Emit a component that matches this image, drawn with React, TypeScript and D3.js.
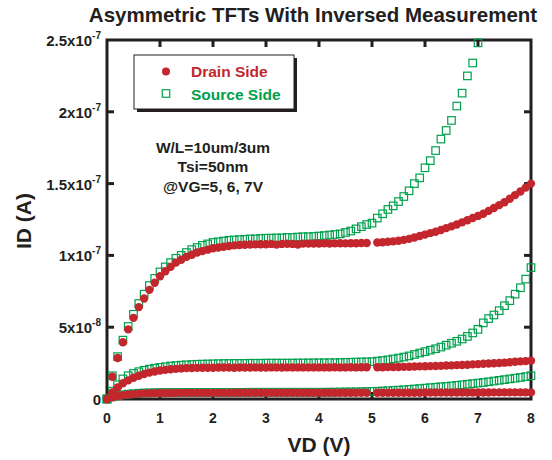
import * as d3 from "d3";
import { useEffect, useRef } from "react";

// drain voltage sweep (V), 0.1 V steps
const vd = d3.range(0, 81).map(i => +(i * 0.1).toFixed(1));

// drain current in units of 1e-8 A (null = no point)
const drainVg7 = [
    0, 1.55, 2.85, 3.95, 4.85, 5.65, 6.4, 7.0, 7.6, 8.1,
    8.55, 8.9, 9.2, 9.5, 9.7, 9.9, 10.05, 10.2, 10.3, 10.4,
    10.5, 10.55, 10.6, 10.65, 10.7, 10.72, 10.74, 10.76, 10.77, 10.78,
    10.78, 10.8, 10.75, 10.8, 10.81, 10.8, 10.76, 10.82, 10.82, 10.83,
    10.83, 10.84, 10.83, 10.84, 10.85, 10.84, 10.85, 10.85, 10.86, 10.86,
    null,
    10.9, 10.92, 10.95, 10.98, 11.02, 11.08, 11.15, 11.25, 11.35, 11.45,
    11.55, 11.65, 11.77, 11.9, 12.02, 12.15, 12.3, 12.45, 12.6, 12.75,
    12.9, 13.1, 13.3, 13.5, 13.7, 13.95, 14.2, 14.45, 14.72, 15.0,
];
const sourceVg7 = [
    0, 1.62, 2.95, 4.1, 5.05, 5.9, 6.65, 7.3, 7.9, 8.4,
    8.85, 9.2, 9.5, 9.8, 10.0, 10.2, 10.4, 10.55, 10.7, 10.8,
    10.9, 10.95, 11.0, 11.05, 11.08, 11.1, 11.12, 11.15, 11.15, 11.18,
    11.2, 11.2, 11.22, 11.22, 11.25, 11.25, 11.28, 11.3, 11.3, 11.32,
    11.35, 11.38, 11.42, 11.46, 11.5, 11.6, 11.7, 11.85, 12.0, 12.15,
    12.25, 12.6, 12.9, 13.2, 13.45, 13.75, 14.1, 14.5, 15.0, 15.4,
    16.1, 16.6, 17.3, 18.1, 18.7, 19.4, 20.4, 21.3, 22.5, 23.4, 24.8,
];
const drainVg6 = [
    0, 0.45, 0.8, 1.1, 1.3, 1.48, 1.62, 1.74, 1.84, 1.92,
    1.98, 2.03, 2.07, 2.1, 2.13, 2.15, 2.16, 2.17, 2.18, 2.18,
    2.18, 2.19, 2.19, 2.19, 2.18, 2.19, 2.19, 2.19, 2.2, 2.19,
    2.19, 2.2, 2.2, 2.19, 2.2, 2.2, 2.2, 2.2, 2.2, 2.2,
    2.2, 2.2, 2.2, 2.21, 2.2, 2.2, 2.21, 2.2, 2.21, 2.21,
    null,
    2.21, 2.21, 2.22, 2.22, 2.23, 2.24, 2.25, 2.26, 2.27, 2.28,
    2.29, 2.3, 2.31, 2.33, 2.34, 2.36, 2.37, 2.39, 2.41, 2.43,
    2.45, 2.47, 2.49, 2.51, 2.53, 2.56, 2.59, 2.62, 2.64, 2.67,
];
const sourceVg6 = [
    0, 0.55, 1.0, 1.4, 1.62, 1.78, 1.9, 2.0, 2.08, 2.15,
    2.2, 2.25, 2.3, 2.33, 2.36, 2.38, 2.4, 2.42, 2.43, 2.44,
    2.45, 2.46, 2.47, 2.47, 2.48, 2.48, 2.48, 2.49, 2.49, 2.49,
    2.5, 2.5, 2.5, 2.5, 2.5, 2.5, 2.51, 2.51, 2.51, 2.52,
    2.52, 2.52, 2.53, 2.53, 2.54, 2.55, 2.56, 2.57, 2.58, 2.59,
    2.6, 2.64, 2.68, 2.73, 2.79, 2.85, 2.92, 3.0, 3.1, 3.2,
    3.3, 3.4, 3.5, 3.62, 3.75, 3.88, 4.02, 4.18, 4.36, 4.6,
    4.85, 5.3, 5.6, 5.85, 6.15, 6.5, 6.85, 7.3, 7.75, 8.35, 9.15,
];
const drainVg5 = [
    0, 0.12, 0.2, 0.26, 0.31, 0.34, 0.37, 0.39, 0.4, 0.41,
    0.42, 0.42, 0.42, 0.43, 0.43, 0.43, 0.43, 0.43, 0.43, 0.43,
    0.43, 0.43, 0.43, 0.43, 0.44, 0.44, 0.44, 0.44, 0.44, 0.44,
    0.44, 0.44, 0.44, 0.44, 0.44, 0.44, 0.44, 0.44, 0.44, 0.44,
    0.44, 0.44, 0.44, 0.44, 0.44, 0.44, 0.44, 0.44, 0.44, 0.44,
    null,
    0.44, 0.44, 0.44, 0.44, 0.44, 0.44, 0.44, 0.44, 0.44, 0.45,
    0.45, 0.45, 0.45, 0.45, 0.45, 0.45, 0.45, 0.45, 0.45, 0.45,
    0.45, 0.45, 0.46, 0.46, 0.46, 0.46, 0.46, 0.46, 0.46, 0.46,
];
const sourceVg5 = [
    0, 0.15, 0.24, 0.3, 0.34, 0.37, 0.4, 0.42, 0.43, 0.44,
    0.45, 0.45, 0.45, 0.45, 0.46, 0.46, 0.46, 0.46, 0.46, 0.46,
    0.46, 0.46, 0.46, 0.46, 0.46, 0.46, 0.46, 0.47, 0.47, 0.47,
    0.47, 0.47, 0.47, 0.47, 0.47, 0.47, 0.47, 0.47, 0.47, 0.47,
    0.47, 0.47, 0.48, 0.48, 0.49, 0.49, 0.5, 0.5, 0.51, 0.52,
    0.53, 0.54, 0.56, 0.58, 0.6, 0.62, 0.64, 0.67, 0.7, 0.73,
    0.76, 0.79, 0.82, 0.85, 0.88, 0.91, 0.95, 0.99, 1.03, 1.07,
    1.11, 1.15, 1.2, 1.25, 1.3, 1.35, 1.4, 1.45, 1.5, 1.56, 1.62,
];

const drainSeries = [drainVg7, drainVg6, drainVg5];
const sourceSeries = [sourceVg7, sourceVg6, sourceVg5];

const xTicks = [0, 1, 2, 3, 4, 5, 6, 7, 8];
const yTicks = [0, 0.5e-7, 1e-7, 1.5e-7, 2e-7, 2.5e-7];
const yTickLabels: [string, string][] = [
    ["0", ""], ["5x10", "-8"], ["1x10", "-7"], ["1.5x10", "-7"], ["2x10", "-7"], ["2.5x10", "-7"],
];
const notes = ["W/L=10um/3um", "Tsi=50nm", "@VG=5, 6, 7V"];
const legendItems = ["Drain Side", "Source Side"];

const RED = "#c3262d";
const GREEN = "#00a04d";
const INK = "#231f20";
const FONT = "'Liberation Sans', Arial, Helvetica, sans-serif";

const TransferChart = () => {
    const svgRef = useRef<SVGSVGElement | null>(null);

    useEffect(() => {
        if (!svgRef.current) return;
        const svg = d3.select(svgRef.current);
        svg.selectAll("*").remove();

        const x = d3.scaleLinear().domain([0, 8]).range([107, 531]);
        const y = d3.scaleLinear().domain([0, 2.5e-7]).range([399, 40]);
        const [x0, x1] = x.range();
        const [y0, y1] = y.range();

        // title
        svg.append("text")
            .attr("x", 313).attr("y", 22)
            .attr("text-anchor", "middle")
            .attr("font-size", 20.5).attr("font-weight", "bold")
            .attr("fill", INK)
            .text("Asymmetric TFTs With Inversed Measurement");

        // frame + inward ticks (drawn under the data)
        const frame = svg.append("g").attr("stroke", INK).attr("stroke-width", 3);
        frame.append("rect")
            .attr("x", x0).attr("y", y1)
            .attr("width", x1 - x0).attr("height", y0 - y1)
            .attr("fill", "none");
        const tl = 7;
        xTicks.slice(1, -1).forEach(t => {
            frame.append("line").attr("x1", x(t)).attr("x2", x(t)).attr("y1", y0).attr("y2", y0 - tl);
            frame.append("line").attr("x1", x(t)).attr("x2", x(t)).attr("y1", y1).attr("y2", y1 + tl);
        });
        yTicks.slice(1, -1).forEach(t => {
            frame.append("line").attr("x1", x0).attr("x2", x0 + tl).attr("y1", y(t)).attr("y2", y(t));
            frame.append("line").attr("x1", x1).attr("x2", x1 - tl).attr("y1", y(t)).attr("y2", y(t));
        });

        // tick labels
        svg.append("g").selectAll("text")
            .data(xTicks).enter().append("text")
            .attr("x", d => x(d)).attr("y", 423)
            .attr("text-anchor", "middle")
            .attr("font-size", 14).attr("font-weight", "bold").attr("fill", INK)
            .text(d => d);

        const yl = svg.append("g").selectAll("text")
            .data(yTicks).enter().append("text")
            .attr("x", 101).attr("y", d => y(d) + 6)
            .attr("text-anchor", "end")
            .attr("font-size", 15).attr("font-weight", "bold").attr("fill", INK);
        yl.append("tspan").text((d, i) => yTickLabels[i][0]);
        yl.append("tspan")
            .attr("font-size", 10).attr("dy", -7)
            .text((d, i) => yTickLabels[i][1]);

        // axis titles
        svg.append("text")
            .attr("x", x(4)).attr("y", 452)
            .attr("text-anchor", "middle")
            .attr("font-size", 21).attr("font-weight", "bold").attr("fill", INK)
            .text("VD (V)");
        svg.append("text")
            .attr("transform", "translate(31,221) rotate(-90)")
            .attr("text-anchor", "middle")
            .attr("font-size", 21).attr("font-weight", "bold").attr("fill", INK)
            .text("ID (A)");

        // data: source squares first, drain circles on top
        const sq = 7.5;
        const data = svg.append("g");
        sourceSeries.forEach(series => {
            data.append("g").selectAll("rect")
                .data(series.map((v, i) => ({ x: vd[i], v })))
                .enter().append("rect")
                .attr("x", d => x(d.x) - sq / 2)
                .attr("y", d => y(d.v * 1e-8) - sq / 2)
                .attr("width", sq).attr("height", sq)
                .attr("fill", "none").attr("stroke", GREEN).attr("stroke-width", 1.2);
        });
        drainSeries.forEach(series => {
            data.append("g").selectAll("circle")
                .data(series.map((v, i) => ({ x: vd[i], v })).filter(d => d.v !== null))
                .enter().append("circle")
                .attr("cx", d => x(d.x))
                .attr("cy", d => y((d.v as number) * 1e-8))
                .attr("r", 4.2)
                .attr("fill", RED);
        });

        // legend with drop shadow
        const lg = svg.append("g");
        lg.append("rect").attr("x", 137).attr("y", 58).attr("width", 160).attr("height", 54).attr("fill", INK);
        lg.append("rect").attr("x", 134).attr("y", 55).attr("width", 160).attr("height", 54)
            .attr("fill", "#fff").attr("stroke", INK).attr("stroke-width", 1);
        lg.append("circle").attr("cx", 166).attr("cy", 71.5).attr("r", 4).attr("fill", RED);
        lg.append("rect").attr("x", 166 - sq / 2).attr("y", 93.5 - sq / 2).attr("width", sq).attr("height", sq)
            .attr("fill", "none").attr("stroke", GREEN).attr("stroke-width", 1.2);
        lg.selectAll("text.item")
            .data(legendItems).enter().append("text")
            .attr("x", 191).attr("y", (d, i) => 77 + i * 23)
            .attr("font-size", 15.5).attr("font-weight", "bold")
            .attr("fill", (d, i) => (i === 0 ? RED : GREEN))
            .text(d => d);

        // device notes
        svg.append("g").selectAll("text")
            .data(notes).enter().append("text")
            .attr("x", 213).attr("y", (d, i) => 153 + i * 19.3)
            .attr("text-anchor", "middle")
            .attr("font-size", 15.5).attr("font-weight", "bold").attr("fill", INK)
            .text(d => d);
    }, []);

    return (
        <svg ref={svgRef} width={552} height={460}
            style={{ position: "absolute", left: 0, top: 0, background: "#fff", fontFamily: FONT }} />
    );
};

export default function App() {
    return <TransferChart />;
}
